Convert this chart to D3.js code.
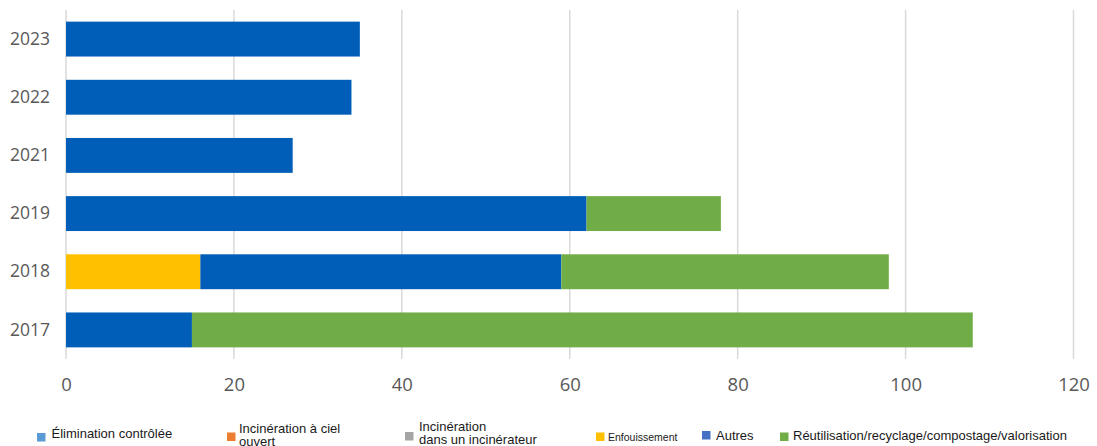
<!DOCTYPE html>
<html>
<head>
<meta charset="utf-8">
<script src="https://cdn.jsdelivr.net/npm/d3@7"></script>
<style>
  body { margin: 0; background: #fff; }
  svg { display: block; }
</style>
</head>
<body>
<svg id="chart"></svg>
<script>
    // data
    const years = ["2023", "2022", "2021", "2019", "2018", "2017"];
    const seriesNames = [
      "Élimination contrôlée",
      "Incinération à ciel ouvert",
      "Incinération dans un incinérateur",
      "Enfouissement",
      "Autres",
      "Réutilisation/recyclage/compostage/valorisation"
    ];
    const elimination   = [0, 0, 0, 0, 0, 0];
    const incinCiel     = [0, 0, 0, 0, 0, 0];
    const incinDans     = [0, 0, 0, 0, 0, 0];
    const enfouissement = [0, 0, 0, 0, 16, 0];
    const autres        = [35, 34, 27, 62, 43, 15];
    const reutilisation = [0, 0, 0, 16, 39, 93];
    const xTicks = [0, 20, 40, 60, 80, 100, 120];

    const barColors = ["#5B9BD5", "#ED7D31", "#A5A5A5", "#FFC000", "#005EB8", "#70AD47"];
    const legendColors = ["#5B9BD5", "#ED7D31", "#A5A5A5", "#FFC000", "#4472C4", "#70AD47"];

    const width = 1097;
    const height = 446;

    const svg = d3.select("#chart")
      .attr("width", width)
      .attr("height", height);

    const keys = ["elim", "ciel", "dans", "enf", "autres", "reut"];
    const rows = years.map((y, i) => ({
      year: y,
      elim: elimination[i],
      ciel: incinCiel[i],
      dans: incinDans[i],
      enf: enfouissement[i],
      autres: autres[i],
      reut: reutilisation[i]
    }));

    const x = d3.scaleLinear().domain([0, 120]).range([66, 1073.5]);
    const y = d3.scaleBand().domain(years).range([10, 359])
      .paddingInner(0.4).paddingOuter(0.2);

    // vertical gridlines
    svg.append("g")
      .selectAll("line")
      .data(xTicks)
      .join("line")
      .attr("x1", d => x(d))
      .attr("x2", d => x(d))
      .attr("y1", 10)
      .attr("y2", 359)
      .attr("stroke", "#d9d9d9")
      .attr("stroke-width", 1.5);

    // stacked bars
    const stack = d3.stack().keys(keys)(rows);
    svg.append("g")
      .selectAll("g")
      .data(stack)
      .join("g")
      .attr("fill", (d, i) => barColors[i])
      .selectAll("rect")
      .data(d => d.filter(s => s[1] - s[0] > 0))
      .join("rect")
      .attr("x", d => x(d[0]))
      .attr("y", d => y(d.data.year))
      .attr("width", d => x(d[1]) - x(d[0]))
      .attr("height", y.bandwidth());

    // x axis labels
    const xAxis = svg.append("g")
      .attr("transform", "translate(0,377.5)")
      .call(d3.axisBottom(x).tickValues(xTicks).tickSize(0).tickPadding(0));
    xAxis.select(".domain").remove();
    xAxis.selectAll("text")
      .attr("font-family", "'Open Sans', sans-serif")
      .attr("font-size", 18.5)
      .attr("fill", "#595959");

    // y axis labels
    const yAxis = svg.append("g")
      .attr("transform", "translate(66,0)")
      .call(d3.axisLeft(y).tickSize(0).tickPadding(16));
    yAxis.select(".domain").remove();
    yAxis.selectAll("text")
      .attr("font-family", "'Open Sans', sans-serif")
      .attr("font-size", 17.5)
      .attr("fill", "#595959");

    // legend
    const legendItems = [
      { lines: ["Élimination contrôlée"], mx: 37, my: 433, tx: 51.5, ty: 438, size: 13 },
      { lines: ["Incinération à ciel", "ouvert"], mx: 227, my: 432.5, tx: 239, ty: 433, size: 13 },
      { lines: ["Incinération", "dans un incinérateur"], mx: 405, my: 432, tx: 419, ty: 431, size: 13 },
      { lines: ["Enfouissement"], mx: 596, my: 432.5, tx: 608, ty: 440.5, size: 10.5 },
      { lines: ["Autres"], mx: 702, my: 431, tx: 716, ty: 440, size: 13 },
      { lines: ["Réutilisation/recyclage/compostage/valorisation"], mx: 780, my: 432.5, tx: 793, ty: 440, size: 13 }
    ];

    const legend = svg.append("g")
      .selectAll("g")
      .data(legendItems)
      .join("g");

    legend.append("rect")
      .attr("x", d => d.mx)
      .attr("y", d => d.my)
      .attr("width", 8.5)
      .attr("height", 8.5)
      .attr("fill", (d, i) => legendColors[i]);

    legend.append("text")
      .attr("font-family", "'Liberation Sans', Arial, sans-serif")
      .attr("font-size", d => d.size)
      .attr("fill", "#1a1a1a")
      .each(function(d) {
        const t = d3.select(this);
        d.lines.forEach((line, k) => {
          t.append("tspan")
            .attr("x", d.tx)
            .attr("y", d.ty + k * 13.3)
            .text(line);
        });
      });
</script>
</body>
</html>
